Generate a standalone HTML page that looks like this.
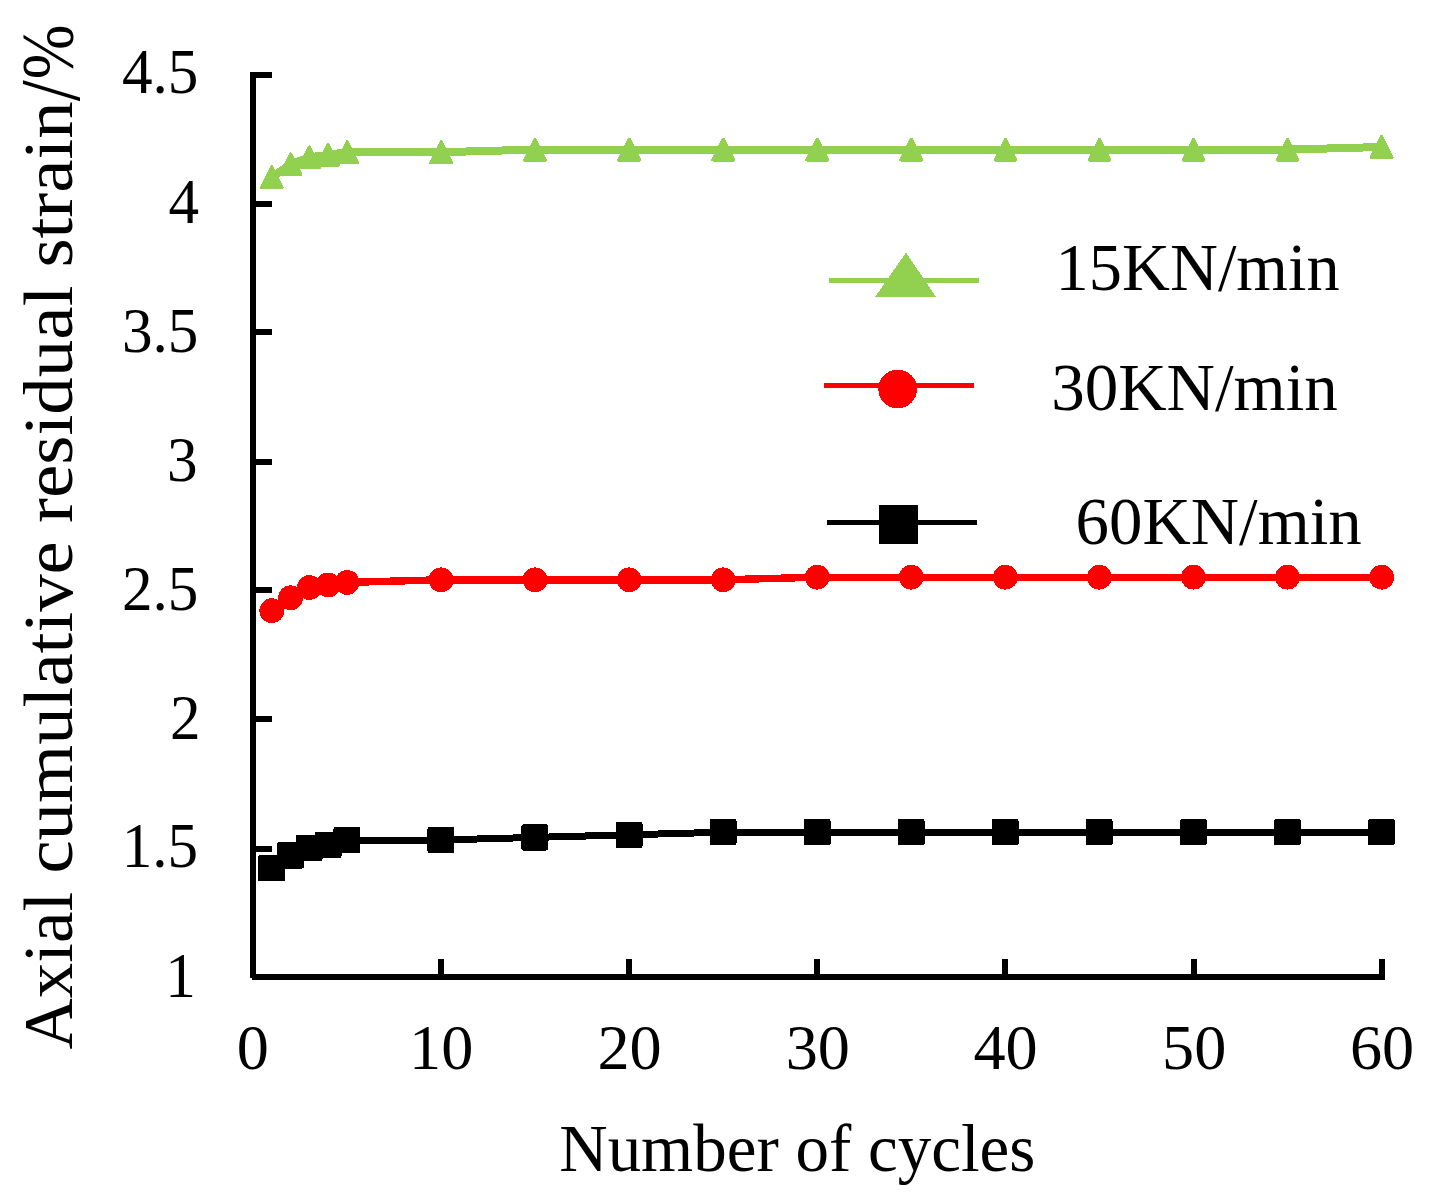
<!DOCTYPE html>
<html lang="en"><head><meta charset="utf-8"><title>Axial cumulative residual strain vs number of cycles</title>
<style>html,body{margin:0;padding:0;background:#fff}body{width:1432px;height:1194px;overflow:hidden}svg{display:block}text{font-family:"Liberation Serif","Times New Roman",serif;fill:#000}</style></head><body>
<svg width="1432" height="1194" viewBox="0 0 1432 1194">
<rect width="1432" height="1194" fill="#fff"/>
<g fill="#000" shape-rendering="crispEdges">
<rect x="250" y="72" width="6" height="906"/>
<rect x="252" y="974" width="1133" height="6"/>
<rect x="255" y="846" width="17" height="6"/>
<rect x="255" y="716" width="17" height="6"/>
<rect x="255" y="587" width="17" height="6"/>
<rect x="255" y="459" width="17" height="6"/>
<rect x="255" y="329" width="17" height="6"/>
<rect x="255" y="201" width="17" height="6"/>
<rect x="255" y="72" width="17" height="6"/>
<rect x="438" y="959" width="6" height="16"/>
<rect x="626" y="959" width="6" height="16"/>
<rect x="814" y="959" width="6" height="16"/>
<rect x="1002" y="959" width="6" height="16"/>
<rect x="1191" y="959" width="6" height="16"/>
<rect x="1379" y="959" width="6" height="16"/>
</g>
<g font-size="62.40" text-anchor="end">
<text transform="translate(195.9,996.5) scale(0.980,1)">1</text>
<text transform="translate(198.1,867.2) scale(0.980,1)">1.5</text>
<text transform="translate(200.6,739.0) scale(0.980,1)">2</text>
<text transform="translate(198.4,610.0) scale(0.980,1)">2.5</text>
<text transform="translate(197.6,481.0) scale(0.980,1)">3</text>
<text transform="translate(198.4,352.2) scale(0.980,1)">3.5</text>
<text transform="translate(199.1,223.0) scale(0.980,1)">4</text>
<text transform="translate(198.4,93.0) scale(0.980,1)">4.5</text>
</g>
<g font-size="62.40" text-anchor="middle">
<text transform="translate(252.8,1069.2) scale(1.03,1)">0</text>
<text transform="translate(441.2,1069.2) scale(1.03,1)">10</text>
<text transform="translate(629.6,1069.2) scale(1.03,1)">20</text>
<text transform="translate(817.8,1069.2) scale(1.03,1)">30</text>
<text transform="translate(1005.6,1069.2) scale(1.03,1)">40</text>
<text transform="translate(1194.2,1069.2) scale(1.03,1)">50</text>
<text transform="translate(1382.0,1069.2) scale(1.03,1)">60</text>
</g>
<text transform="translate(797.3,1170.7) scale(0.9765,1)" font-size="68.6" text-anchor="middle">Number of cycles</text>
<text transform="translate(72.1,1049.4) rotate(-90)" font-size="69.6"><tspan x="0.0" y="0.0" textLength="157.72" lengthAdjust="spacingAndGlyphs">Axial</tspan> <tspan x="175.8" y="0.0" textLength="332.39" lengthAdjust="spacingAndGlyphs">cumulative</tspan> <tspan x="526.4" y="0.0" textLength="237.50" lengthAdjust="spacingAndGlyphs">residual</tspan> <tspan x="781.8" y="0.0" textLength="166.22" lengthAdjust="spacingAndGlyphs">strain</tspan><tspan x="948.2" y="7.1" textLength="20.91" lengthAdjust="spacingAndGlyphs" font-size="85.5">/</tspan><tspan x="970.1" y="1.1" textLength="54.77" lengthAdjust="spacingAndGlyphs" font-size="74.2">%</tspan></text>
<g shape-rendering="crispEdges">
<polyline points="271.8,177.2 290.6,164.3 309.4,157.3 328.2,154.8 347.1,152.2 441.1,152.2 535.1,149.6 629.2,149.6 723.2,149.6 817.3,149.6 911.3,149.6 1005.4,149.6 1099.4,149.6 1193.5,149.6 1287.5,149.6 1381.6,147.0" fill="none" stroke="#92D050" stroke-width="8.0" stroke-linejoin="round"/>
<polygon points="271.8,166.7 282.3,187.7 261.3,187.7" fill="#92D050" stroke="#92D050" stroke-width="3" stroke-linejoin="round"/>
<polygon points="290.6,153.8 301.1,174.8 280.1,174.8" fill="#92D050" stroke="#92D050" stroke-width="3" stroke-linejoin="round"/>
<polygon points="309.4,146.8 319.9,167.8 298.9,167.8" fill="#92D050" stroke="#92D050" stroke-width="3" stroke-linejoin="round"/>
<polygon points="328.2,144.3 338.7,165.3 317.7,165.3" fill="#92D050" stroke="#92D050" stroke-width="3" stroke-linejoin="round"/>
<polygon points="347.1,141.7 357.6,162.7 336.6,162.7" fill="#92D050" stroke="#92D050" stroke-width="3" stroke-linejoin="round"/>
<polygon points="441.1,141.7 451.6,162.7 430.6,162.7" fill="#92D050" stroke="#92D050" stroke-width="3" stroke-linejoin="round"/>
<polygon points="535.1,139.1 545.6,160.1 524.6,160.1" fill="#92D050" stroke="#92D050" stroke-width="3" stroke-linejoin="round"/>
<polygon points="629.2,139.1 639.7,160.1 618.7,160.1" fill="#92D050" stroke="#92D050" stroke-width="3" stroke-linejoin="round"/>
<polygon points="723.2,139.1 733.8,160.1 712.8,160.1" fill="#92D050" stroke="#92D050" stroke-width="3" stroke-linejoin="round"/>
<polygon points="817.3,139.1 827.8,160.1 806.8,160.1" fill="#92D050" stroke="#92D050" stroke-width="3" stroke-linejoin="round"/>
<polygon points="911.3,139.1 921.8,160.1 900.8,160.1" fill="#92D050" stroke="#92D050" stroke-width="3" stroke-linejoin="round"/>
<polygon points="1005.4,139.1 1015.9,160.1 994.9,160.1" fill="#92D050" stroke="#92D050" stroke-width="3" stroke-linejoin="round"/>
<polygon points="1099.4,139.1 1109.9,160.1 1088.9,160.1" fill="#92D050" stroke="#92D050" stroke-width="3" stroke-linejoin="round"/>
<polygon points="1193.5,139.1 1204.0,160.1 1183.0,160.1" fill="#92D050" stroke="#92D050" stroke-width="3" stroke-linejoin="round"/>
<polygon points="1287.5,139.1 1298.0,160.1 1277.0,160.1" fill="#92D050" stroke="#92D050" stroke-width="3" stroke-linejoin="round"/>
<polygon points="1381.6,136.5 1392.1,157.5 1371.1,157.5" fill="#92D050" stroke="#92D050" stroke-width="3" stroke-linejoin="round"/>
<polyline points="271.8,610.7 290.6,597.8 309.4,587.5 328.2,584.9 347.1,582.4 441.1,579.8 535.1,579.8 629.2,579.8 723.2,579.8 817.3,577.2 911.3,577.2 1005.4,577.2 1099.4,577.2 1193.5,577.2 1287.5,577.2 1381.6,577.2" fill="none" stroke="#FF0000" stroke-width="7.4" stroke-linejoin="round"/>
<circle cx="271.8" cy="610.7" r="12.4" fill="#FF0000"/>
<circle cx="290.6" cy="597.8" r="12.4" fill="#FF0000"/>
<circle cx="309.4" cy="587.5" r="12.4" fill="#FF0000"/>
<circle cx="328.2" cy="584.9" r="12.4" fill="#FF0000"/>
<circle cx="347.1" cy="582.4" r="12.4" fill="#FF0000"/>
<circle cx="441.1" cy="579.8" r="12.4" fill="#FF0000"/>
<circle cx="535.1" cy="579.8" r="12.4" fill="#FF0000"/>
<circle cx="629.2" cy="579.8" r="12.4" fill="#FF0000"/>
<circle cx="723.2" cy="579.8" r="12.4" fill="#FF0000"/>
<circle cx="817.3" cy="577.2" r="12.4" fill="#FF0000"/>
<circle cx="911.3" cy="577.2" r="12.4" fill="#FF0000"/>
<circle cx="1005.4" cy="577.2" r="12.4" fill="#FF0000"/>
<circle cx="1099.4" cy="577.2" r="12.4" fill="#FF0000"/>
<circle cx="1193.5" cy="577.2" r="12.4" fill="#FF0000"/>
<circle cx="1287.5" cy="577.2" r="12.4" fill="#FF0000"/>
<circle cx="1381.6" cy="577.2" r="12.4" fill="#FF0000"/>
<polyline points="271.8,868.3 290.6,855.4 309.4,847.7 328.2,845.1 347.1,840.0 441.1,840.0 535.1,837.4 629.2,834.8 723.2,832.2 817.3,832.2 911.3,832.2 1005.4,832.2 1099.4,832.2 1193.5,832.2 1287.5,832.2 1381.6,832.2" fill="none" stroke="#000000" stroke-width="7.0" stroke-linejoin="round"/>
<rect x="258.1" y="855.2" width="27" height="26.2" rx="2" fill="#000000"/>
<rect x="276.9" y="842.3" width="27" height="26.2" rx="2" fill="#000000"/>
<rect x="295.7" y="834.6" width="27" height="26.2" rx="2" fill="#000000"/>
<rect x="314.5" y="832.0" width="27" height="26.2" rx="2" fill="#000000"/>
<rect x="333.4" y="826.9" width="27" height="26.2" rx="2" fill="#000000"/>
<rect x="427.4" y="826.9" width="27" height="26.2" rx="2" fill="#000000"/>
<rect x="521.4" y="824.3" width="27" height="26.2" rx="2" fill="#000000"/>
<rect x="615.5" y="821.7" width="27" height="26.2" rx="2" fill="#000000"/>
<rect x="709.5" y="819.1" width="27" height="26.2" rx="2" fill="#000000"/>
<rect x="803.6" y="819.1" width="27" height="26.2" rx="2" fill="#000000"/>
<rect x="897.6" y="819.1" width="27" height="26.2" rx="2" fill="#000000"/>
<rect x="991.7" y="819.1" width="27" height="26.2" rx="2" fill="#000000"/>
<rect x="1085.7" y="819.1" width="27" height="26.2" rx="2" fill="#000000"/>
<rect x="1179.8" y="819.1" width="27" height="26.2" rx="2" fill="#000000"/>
<rect x="1273.8" y="819.1" width="27" height="26.2" rx="2" fill="#000000"/>
<rect x="1367.9" y="819.1" width="27" height="26.2" rx="2" fill="#000000"/>
<rect x="828.8" y="277.8" width="150.5" height="5.3" fill="#92D050"/>
<polygon points="906,252.6 936.2,297 875,297" fill="#92D050"/>
<rect x="823.8" y="382.6" width="150.2" height="5.6" fill="#FF0000"/>
<circle cx="897.7" cy="389" r="19.4" fill="#FF0000"/>
<rect x="826.8" y="519.7" width="150.2" height="5.4" fill="#000000"/>
<rect x="878.9" y="505" width="39.2" height="38.7" fill="#000000"/>
</g>
<g font-size="68.6">
<text transform="translate(1055.6,290.3) scale(0.968,1)">15KN/min</text>
<text transform="translate(1051.2,410.3) scale(0.977,1)">30KN/min</text>
<text transform="translate(1075.6,544.1) scale(0.975,1)">60KN/min</text>
</g>
</svg></body></html>
